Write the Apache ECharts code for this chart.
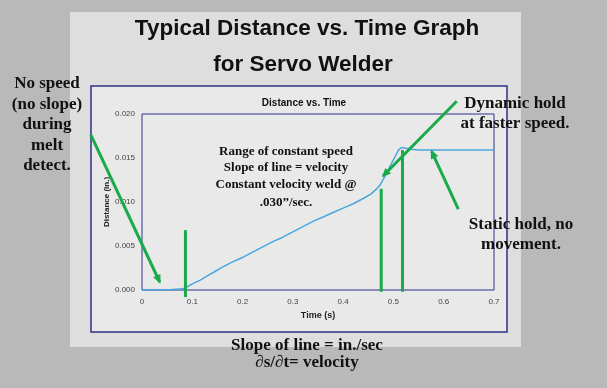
<!DOCTYPE html>
<html>
<head>
<meta charset="utf-8">
<script src="https://cdn.jsdelivr.net/npm/echarts@6/dist/echarts.min.js"></script>
<style>html,body{margin:0;padding:0;background:#b9b9b9;}#c{width:607px;height:388px;}</style>
</head>
<body>
<div id="c"></div>
<script>
// ---- data (time in s, distance in inches) ----
const timeS = [0, 0.02, 0.04, 0.06, 0.075, 0.085, 0.1, 0.115, 0.13, 0.145, 0.16, 0.18, 0.2, 0.22, 0.24, 0.26, 0.28, 0.3, 0.32, 0.34, 0.36, 0.38, 0.4, 0.42, 0.44, 0.455, 0.465, 0.473, 0.48, 0.49, 0.5, 0.51, 0.516, 0.525, 0.535, 0.55, 0.6, 0.65, 0.7];
const distIn = [0, 0, 0, 0.00005, 0.0001, 0.0002, 0.0007, 0.0011, 0.0016, 0.0021, 0.0026, 0.0032, 0.0037, 0.0043, 0.0049, 0.0055, 0.0060, 0.0066, 0.0072, 0.0078, 0.0083, 0.0088, 0.0093, 0.0098, 0.0104, 0.0109, 0.0114, 0.0119, 0.0126, 0.0137, 0.0148, 0.0159, 0.0162, 0.0161, 0.0160, 0.0159, 0.0159, 0.0159, 0.0159];
const xTicks = ['0', '0.1', '0.2', '0.3', '0.4', '0.5', '0.6', '0.7'];
const yTicks = ['0.000', '0.005', '0.010', '0.015', '0.020'];

// ---- annotation arrows in data units [t, d] (start -> end) ----
const arrowLeft = [[-0.102, 0.01765], [0.0352, 0.00091]];
const arrowDynamic = [[0.6258, 0.02145], [0.4797, 0.01298]];
const arrowStatic = [[0.629, 0.00919], [0.576, 0.01575]];
const markerLines = [
  [[0.0864, -0.0008], [0.0864, 0.0068]],
  [[0.4757, -0.0002], [0.4757, 0.0115]],
  [[0.518, -0.0002], [0.518, 0.0159]]
];

const GREEN = '#19aa4b';
const SERIF = '"Liberation Serif", "Times New Roman", serif';
const SANS = '"Liberation Sans", Arial, sans-serif';

const chart = echarts.init(document.getElementById('c'), null, {renderer: 'canvas'});
const seriesData = timeS.map((t, i) => [t, distIn[i]]);

chart.setOption({
  backgroundColor: '#b9b9b9',
  animation: false,
  title: {
    text: 'Distance vs. Time',
    left: 299, top: 93, textAlign: 'center',
    textStyle: {fontFamily: SANS, fontSize: 10, fontWeight: 'bold', color: '#111'}
  },
  grid: {left: 142, right: 113, top: 114, bottom: 98, show: true,
    borderColor: '#2e3187', borderWidth: 1, backgroundColor: 'rgba(0,0,0,0)'},
  xAxis: {
    type: 'value', min: 0, max: 0.7, interval: 0.1,
    name: 'Time (s)', nameLocation: 'middle', nameGap: 21, nameMoveOverlap: false,
    nameTextStyle: {fontFamily: SANS, fontSize: 9, fontWeight: 'bold', color: '#222'},
    axisLine: {show: false}, axisTick: {show: false}, splitLine: {show: false},
    axisLabel: {margin: 8, fontFamily: SANS, fontSize: 8, color: '#444',
      formatter: v => xTicks[Math.round(v * 10)]}
  },
  yAxis: {
    type: 'value', min: 0, max: 0.02, interval: 0.005,
    name: 'Distance (in.)', nameLocation: 'middle', nameGap: 31, nameMoveOverlap: false,
    nameTextStyle: {fontFamily: SANS, fontSize: 8, fontWeight: 'bold', color: '#222'},
    axisLine: {show: false}, axisTick: {show: false}, splitLine: {show: false},
    axisLabel: {margin: 7, fontFamily: SANS, fontSize: 8, color: '#444',
      formatter: v => yTicks[Math.round(v / 0.005)]}
  },
  series: [{
    type: 'line', data: seriesData, showSymbol: false, smooth: false,
    lineStyle: {color: '#4aa6e0', width: 1.5}, z: 3
  }]
});

function px(p) { return chart.convertToPixel({gridIndex: 0}, p); }

function arrowEls(pair, withHead) {
  const a = px(pair[0]), b = px(pair[1]);
  const els = [{type: 'line', z: 20, shape: {x1: a[0], y1: a[1], x2: b[0], y2: b[1]},
    style: {stroke: GREEN, lineWidth: 3}}];
  if (withHead) {
    const dx = b[0] - a[0], dy = b[1] - a[1], L = Math.hypot(dx, dy);
    const ux = dx / L, uy = dy / L, nx = -uy, ny = ux;
    const hl = 9, hw = 4;
    const tip = [b[0] + ux * 2, b[1] + uy * 2];
    const base = [tip[0] - ux * hl, tip[1] - uy * hl];
    els.push({type: 'polygon', z: 21, shape: {points: [tip,
      [base[0] + nx * hw, base[1] + ny * hw], [base[0] - nx * hw, base[1] - ny * hw]]},
      style: {fill: GREEN}});
  }
  return els;
}

function txt(text, x, y, size, family, weight) {
  return {type: 'text', z: 30, x: x, y: y,
    style: {text: text, fill: '#111', font: (weight || 'bold') + ' ' + size + 'px ' + family,
      textAlign: 'center', textVerticalAlign: 'middle', align: 'center', verticalAlign: 'middle'}};
}

const g = [];
// backgrounds
g.push({type: 'rect', z: -10, silent: true, shape: {x: 70, y: 12, width: 451, height: 335}, style: {fill: '#dedede'}});
g.push({type: 'rect', z: -9, silent: true, shape: {x: 91, y: 86, width: 416, height: 246},
  style: {fill: '#e9e9e9', stroke: '#2e3187', lineWidth: 1.5}});
// title
g.push(txt('Typical Distance vs. Time Graph', 307, 29, 22.5, SANS));
g.push(txt('for Servo Welder', 303, 64.5, 22.5, SANS));
// left annotation
['No speed', '(no slope)', 'during', 'melt', 'detect.'].forEach((s, i) => {
  g.push(txt(s, 47, 84 + i * 20.5, 17, SERIF));
});
// center annotation
g.push(txt('Range of constant speed', 286, 151.5, 13, SERIF));
g.push(txt('Slope of line = velocity', 286, 168, 13, SERIF));
g.push(txt('Constant velocity weld @', 286, 184.5, 13, SERIF));
g.push(txt('.030\u201d/sec.', 286, 203, 13, SERIF));
// right annotations
g.push(txt('Dynamic hold', 515, 103.5, 17, SERIF));
g.push(txt('at faster speed.', 515, 123.5, 17, SERIF));
g.push(txt('Static hold, no', 521, 225, 17, SERIF));
g.push(txt('movement.', 521, 245, 17, SERIF));
// bottom
g.push(txt('Slope of line = in./sec', 307, 346, 17, SERIF));
g.push(txt('\u2202s/\u2202t= velocity', 307, 363, 17, SERIF));
// arrows
arrowEls(arrowLeft, true).forEach(e => g.push(e));
arrowEls(arrowDynamic, true).forEach(e => g.push(e));
arrowEls(arrowStatic, true).forEach(e => g.push(e));
markerLines.forEach(m => arrowEls(m, false).forEach(e => g.push(e)));

chart.setOption({graphic: {elements: g}});
</script>
</body>
</html>
